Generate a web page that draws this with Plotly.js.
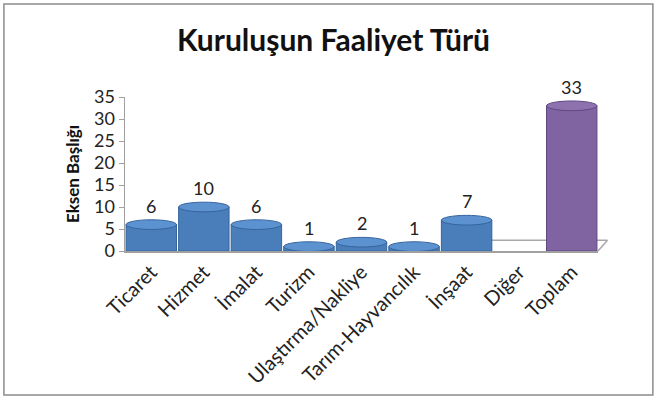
<!DOCTYPE html>
<html>
<head>
<meta charset="utf-8">
<script src="https://cdn.plot.ly/plotly-3.0.1.min.js"></script>
<style>
  body { margin: 0; background: #fff; }
  #chart { width: 667px; height: 400px; }
</style>
</head>
<body>
<div id="chart"></div>
<script>
const categories = ['Ticaret', 'Hizmet', 'İmalat', 'Turizm', 'Ulaştırma/Nakliye',
                    'Tarım-Hayvancılık', 'İnşaat', 'Diğer', 'Toplam'];
const counts = [6, 10, 6, 1, 2, 1, 7, null, 33];
const yTicks = [0, 5, 10, 15, 20, 25, 30, 35];

const blue = '#4a7ebb';
const purple = '#8064a2';

var isTotal = categories.map(c => c === 'Toplam');
var barColors = isTotal.map(t => t ? purple : blue);
var lineColors = isTotal.map(t => t ? '#5f4880' : '#35649c');
var capColors = isTotal.map(t => t ? '#8e72b0' : '#5d92d1');

var data = [{
  type: 'bar',
  x: categories,
  y: counts,
  marker: { color: barColors, line: { color: lineColors, width: 1 } },
  hoverinfo: 'x+y'
}];

// cylinder caps and value labels, placed from the data
var caps = [];
var labels = [];
counts.forEach(function (v, i) {
  if (v === null) return;
  caps.push({
    type: 'circle', xref: 'x', yref: 'y',
    x0: i - 0.48, x1: i + 0.48, y0: v - 1.1, y1: v + 1.1,
    fillcolor: capColors[i], line: { color: lineColors[i], width: 1 }, layer: 'above'
  });
  labels.push({
    x: categories[i], y: v, xref: 'x', yref: 'y',
    text: String(v), showarrow: false, yanchor: 'bottom', yshift: 6,
    font: { family: 'Lato, sans-serif', size: 18, color: '#222' }
  });
});

var layout = {
  width: 667,
  height: 400,
  margin: { l: 125, r: 69, t: 97, b: 149 },
  paper_bgcolor: '#fff',
  plot_bgcolor: '#fff',
  showlegend: false,
  bargap: 0.04,
  font: { family: 'Lato, sans-serif', color: '#222' },
  title: {
    text: '<b>Kuruluşun Faaliyet Türü</b>',
    x: 0.5, xref: 'container', xanchor: 'center',
    y: 0.9, yref: 'container', yanchor: 'middle',
    font: { family: 'Lato, sans-serif', size: 30, color: '#111' }
  },
  xaxis: {
    type: 'category',
    tickangle: -45,
    tickfont: { family: 'Lato, sans-serif', size: 20, color: '#222' },
    showline: true, linecolor: '#a0a0a0', linewidth: 1.5,
    ticks: '', showgrid: false
  },
  yaxis: {
    range: [0, 35],
    tickvals: yTicks,
    tickfont: { family: 'Lato, sans-serif', size: 18, color: '#222' },
    showline: true, linecolor: '#a0a0a0', linewidth: 1.5,
    ticks: 'outside', ticklen: 5, tickcolor: '#a0a0a0',
    showgrid: false, zeroline: false,
    title: {
      text: '<b>Eksen Başlığı</b>',
      standoff: 10,
      font: { family: 'Lato, sans-serif', size: 17, color: '#111' }
    }
  },
  annotations: labels,
  shapes: [
    // outer chart frame
    { type: 'rect', xref: 'paper', yref: 'paper',
      x0: -0.256, x1: 1.116, y0: -0.935, y1: 1.604,
      line: { color: '#8c8c8c', width: 1.5 }, layer: 'below' },
    // floor back edge
    { type: 'line', xref: 'paper', yref: 'paper',
      x0: 0.75, x1: 1.02, y0: 0.07, y1: 0.07,
      line: { color: '#a8a8a8', width: 1.5 }, layer: 'below' },
    { type: 'line', xref: 'paper', yref: 'paper',
      x0: 1.0, x1: 1.02, y0: 0.0, y1: 0.07,
      line: { color: '#a8a8a8', width: 1.5 }, layer: 'below' }
  ].concat(caps)
};

Plotly.newPlot('chart', data, layout, { displayModeBar: false, staticPlot: true });
</script>
</body>
</html>
